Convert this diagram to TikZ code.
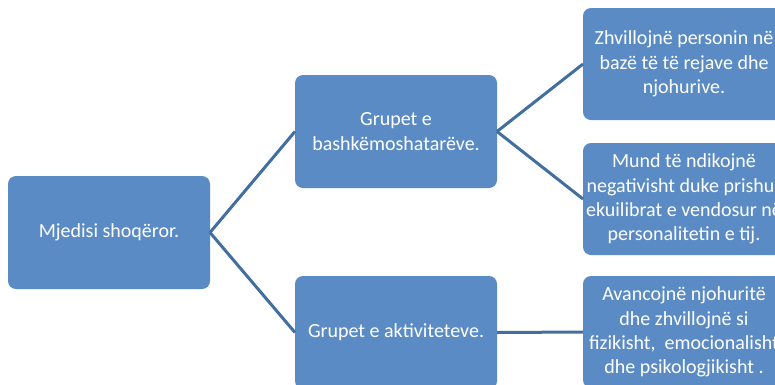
\documentclass[tikz,border=0pt]{standalone}
\usepackage{fontspec}
\setmainfont{Carlito}
\definecolor{boxblue}{RGB}{91,139,196}
\definecolor{lineblue}{RGB}{66,111,160}
\tikzset{
  box/.style={rectangle, rounded corners=8pt, fill=boxblue, text=white,
    minimum width=202pt, minimum height=113pt, inner sep=0pt, outer sep=0pt,
    align=center, font=\fontsize{20}{24.4}\selectfont},
  conn/.style={draw=lineblue, line width=3pt}
}
\begin{document}
\begin{tikzpicture}[x=1pt,y=-1pt]
\useasboundingbox (0,0) rectangle (775,384);
\clip (0,0) rectangle (775,384);
\fill[white] (0,0) rectangle (775,384);
\node[box] (A) at (109,232.5) {Mjedisi shoqëror.};
\node[box] (B) at (396,131.5) {Grupet e\\bashkëmoshatarëve.};
\node[box] (C) at (396,332.5) {Grupet e aktiviteteve.};
\node[box, minimum height=112pt] (D) at (684,64) {Zhvillojnë personin në\\bazë të të rejave dhe\\njohurive.};
\node[box, minimum height=112pt] (E) at (684,199) {Mund të ndikojnë\\negativisht duke prishur\\ekuilibrat e vendosur në\\personalitetin e tij.};
\node[box, minimum height=112pt] (F) at (684,332) {Avancojnë njohuritë\\dhe zhvillojnë si\\fizikisht,\ \ emocionalisht\\dhe psikologjikisht .};
\draw[conn] (A.east) -- (B.west);
\draw[conn] (A.east) -- (C.west);
\draw[conn] (B.east) -- (D.west);
\draw[conn] (B.east) -- (E.west);
\draw[conn] (C.east) -- (F.west);
\end{tikzpicture}
\end{document}
